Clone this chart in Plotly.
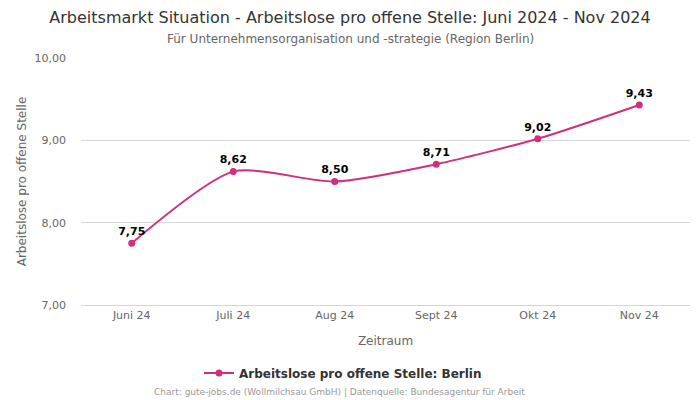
import plotly.graph_objects as go

months = ["Juni 24", "Juli 24", "Aug 24", "Sept 24", "Okt 24", "Nov 24"]
values = [7.75, 8.62, 8.50, 8.71, 9.02, 9.43]
labels = ["7,75", "8,62", "8,50", "8,71", "9,02", "9,43"]
y_ticks = [7, 8, 9, 10]
y_tick_text = ["7,00", "8,00", "9,00", "10,00"]

color = "#d22e7a"
font = "DejaVu Sans, Verdana, sans-serif"

fig = go.Figure()
fig.add_trace(go.Scatter(
    x=months, y=values, mode="lines+markers+text",
    name="Arbeitslose pro offene Stelle: Berlin",
    line=dict(color=color, width=2, shape="spline", smoothing=0.7),
    marker=dict(color=color, size=7),
    text=labels, textposition="top center",
    textfont=dict(family=font, size=11, color="#000000", weight="bold"),
    cliponaxis=False,
))

cx = (350 - 81) / 609
cx_legend = (343 - 81) / 609
cx_footer = (339.5 - 81) / 609

fig.update_layout(
    width=700, height=400,
    paper_bgcolor="white", plot_bgcolor="white",
    margin=dict(l=81, r=10, t=58, b=95, autoexpand=False),
    font=dict(family=font, color="#666666"),
    title=dict(
        text="Arbeitsmarkt Situation - Arbeitslose pro offene Stelle: Juni 2024 - Nov 2024",
        x=0.5, xanchor="center", y=0.957, yanchor="middle",
        font=dict(size=16, color="#333333", family=font),
    ),
    showlegend=True,
    legend=dict(orientation="h", x=cx_legend, xanchor="center",
                y=-0.275, yanchor="middle",
                font=dict(size=12, color="#333333", family=font, weight="bold")),
    xaxis=dict(
        type="category", range=[-0.5, 5.5],
        showgrid=False, showline=True, linecolor="#ccd6eb", linewidth=1,
        ticks="", tickfont=dict(size=11, color="#666666"), tickangle=0,
        title=dict(text="Zeitraum", font=dict(size=12, color="#666666"), standoff=15),
    ),
    yaxis=dict(
        range=[7, 10], tickvals=y_ticks, ticktext=y_tick_text,
        showgrid=True, gridcolor="#d8d8d8", gridwidth=1, zeroline=False,
        ticks="", tickfont=dict(size=11, color="#666666"), ticklabelstandoff=14,
        title=dict(text="Arbeitslose pro offene Stelle", font=dict(size=12, color="#666666"), standoff=5),
    ),
)

fig.add_annotation(
    text="Für Unternehmensorganisation und -strategie (Region Berlin)",
    xref="paper", yref="paper", x=cx, y=1.077, yanchor="middle", showarrow=False,
    font=dict(size=12, color="#666666", family=font),
)
fig.add_annotation(
    text="Chart: gute-jobs.de (Wollmilchsau GmbH) | Datenquelle: Bundesagentur für Arbeit",
    xref="paper", yref="paper", x=cx_footer, y=-0.352, yanchor="middle", showarrow=False,
    font=dict(size=9, color="#999999", family=font),
)

fig.write_html("out.html", config={"displayModeBar": False},
               post_script="document.body.style.margin='0';document.body.style.padding='0';")
